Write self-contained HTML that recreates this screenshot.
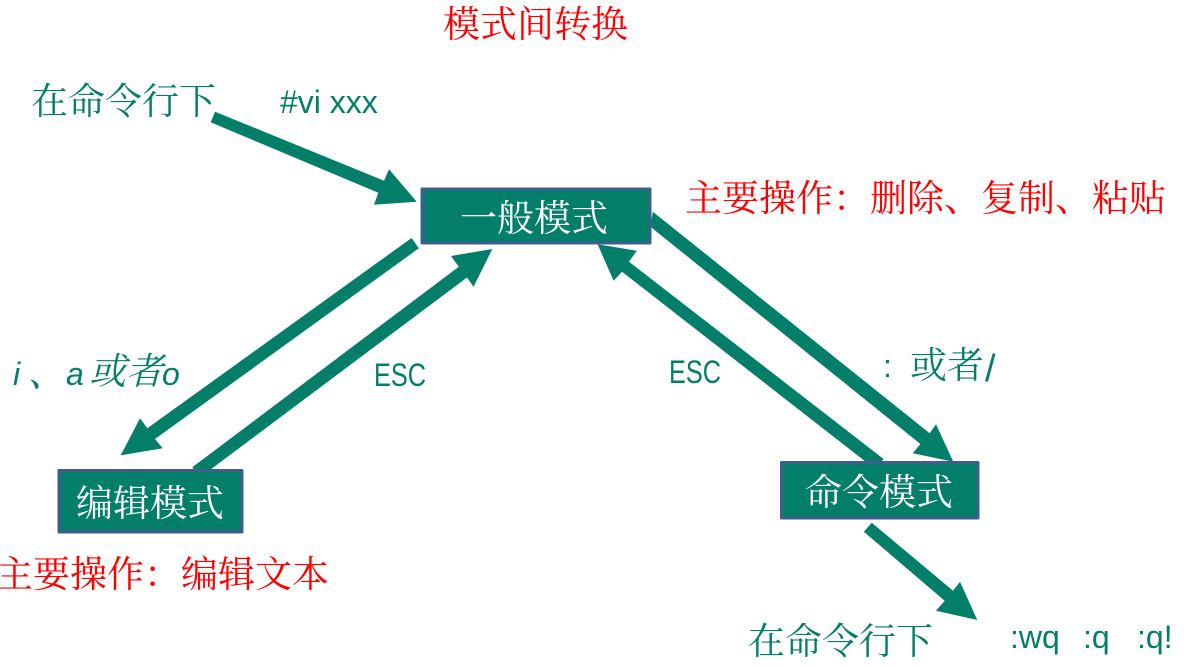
<!DOCTYPE html>
<html lang="zh-CN"><head><meta charset="utf-8"><style>
html,body{margin:0;padding:0;background:#fff;width:1184px;height:667px;overflow:hidden}
svg{display:block}
.c{font-family:"Noto Serif CJK SC",serif;font-weight:400;font-size:37px}
.s{font-family:"Liberation Sans",sans-serif;font-size:32px}
.t{font-family:"Noto Serif CJK TC",serif}
</style></head><body>
<svg width="1184" height="667" viewBox="0 0 1184 667" xmlns="http://www.w3.org/2000/svg">
<g fill="#027e69">
<polygon points="215,111.7 384,180.7 389,169.3 416.7,201.7 374,204.7 378.3,192.7 210.7,122.3"/>
<polygon points="411.6,238 418.8,248.3 155,439 162.7,448.3 120.7,455.3 140,418.3 147.3,428.3"/>
<polygon points="192.3,467.3 200.5,477 467,277.5 473.5,286.7 492.4,249 451,256 458.8,266.7"/>
<polygon points="883.6,459 875,469 622,271.7 613.6,280.7 597.6,244.3 636.8,250.7 629,261.7"/>
<polygon points="652.8,211.7 650.4,226.7 920.4,444 912.7,453.3 953.3,461.7 936,424.3 929.7,433.3"/>
<polygon points="871.8,522.7 863.8,531.7 944.7,600.7 936,610.7 977.3,620 960,581.7 953,590.7"/>
</g>
<g fill="#027e69" stroke="#3d5f8f" stroke-width="3" stroke-linejoin="round">
<rect x="422" y="189" width="228" height="54"/>
<rect x="59" y="470.5" width="183" height="61.5"/>
<rect x="781.5" y="462.5" width="196.5" height="55.5"/>
</g>
<text class="c" x="443" y="37" fill="#f00">模式间转换</text>
<text class="c" x="31" y="114" fill="#027e69">在命令行下</text>
<text class="s" x="280" y="113" fill="#027e69">#vi xxx</text>
<text class="c" x="685" y="211" fill="#f00">主要操作<tspan class="t">：</tspan>删除、复制、粘贴</text>
<text class="c" x="460" y="231" fill="#fff">一般模式</text>
<text class="c" x="76" y="516" fill="#fff">编辑模式</text>
<text class="c" x="805" y="505" fill="#fff">命令模式</text>
<text class="c" x="-4" y="587" fill="#f00">主要操作<tspan class="t">：</tspan>编辑文本</text>
<text class="c" x="748" y="654" fill="#027e69">在命令行下</text>
<text class="s" x="13" y="385" fill="#027e69" font-style="italic">i</text>
<text class="c" x="28" y="386" fill="#027e69" font-style="italic">、</text>
<text class="s" x="66" y="385" fill="#027e69" font-style="italic">a</text>
<text class="c" x="89" y="384" fill="#027e69" font-style="italic">或者</text>
<text class="s" x="162" y="385" fill="#027e69" font-style="italic">o</text>
<text class="s" x="374" y="386" fill="#027e69" textLength="52" lengthAdjust="spacingAndGlyphs">ESC</text>
<text class="s" x="669" y="383" fill="#027e69" textLength="52" lengthAdjust="spacingAndGlyphs">ESC</text>
<text class="s" x="883" y="377" fill="#027e69">:</text>
<text class="c" x="910" y="378" fill="#027e69">或者</text>
<text class="s" x="985" y="381" fill="#027e69" style="font-size:38px">/</text>
<text class="s" x="1010" y="648" fill="#027e69">:wq</text>
<text class="s" x="1083" y="648" fill="#027e69">:q</text>
<text class="s" x="1137" y="648" fill="#027e69">:q!</text>
</svg>
</body></html>
